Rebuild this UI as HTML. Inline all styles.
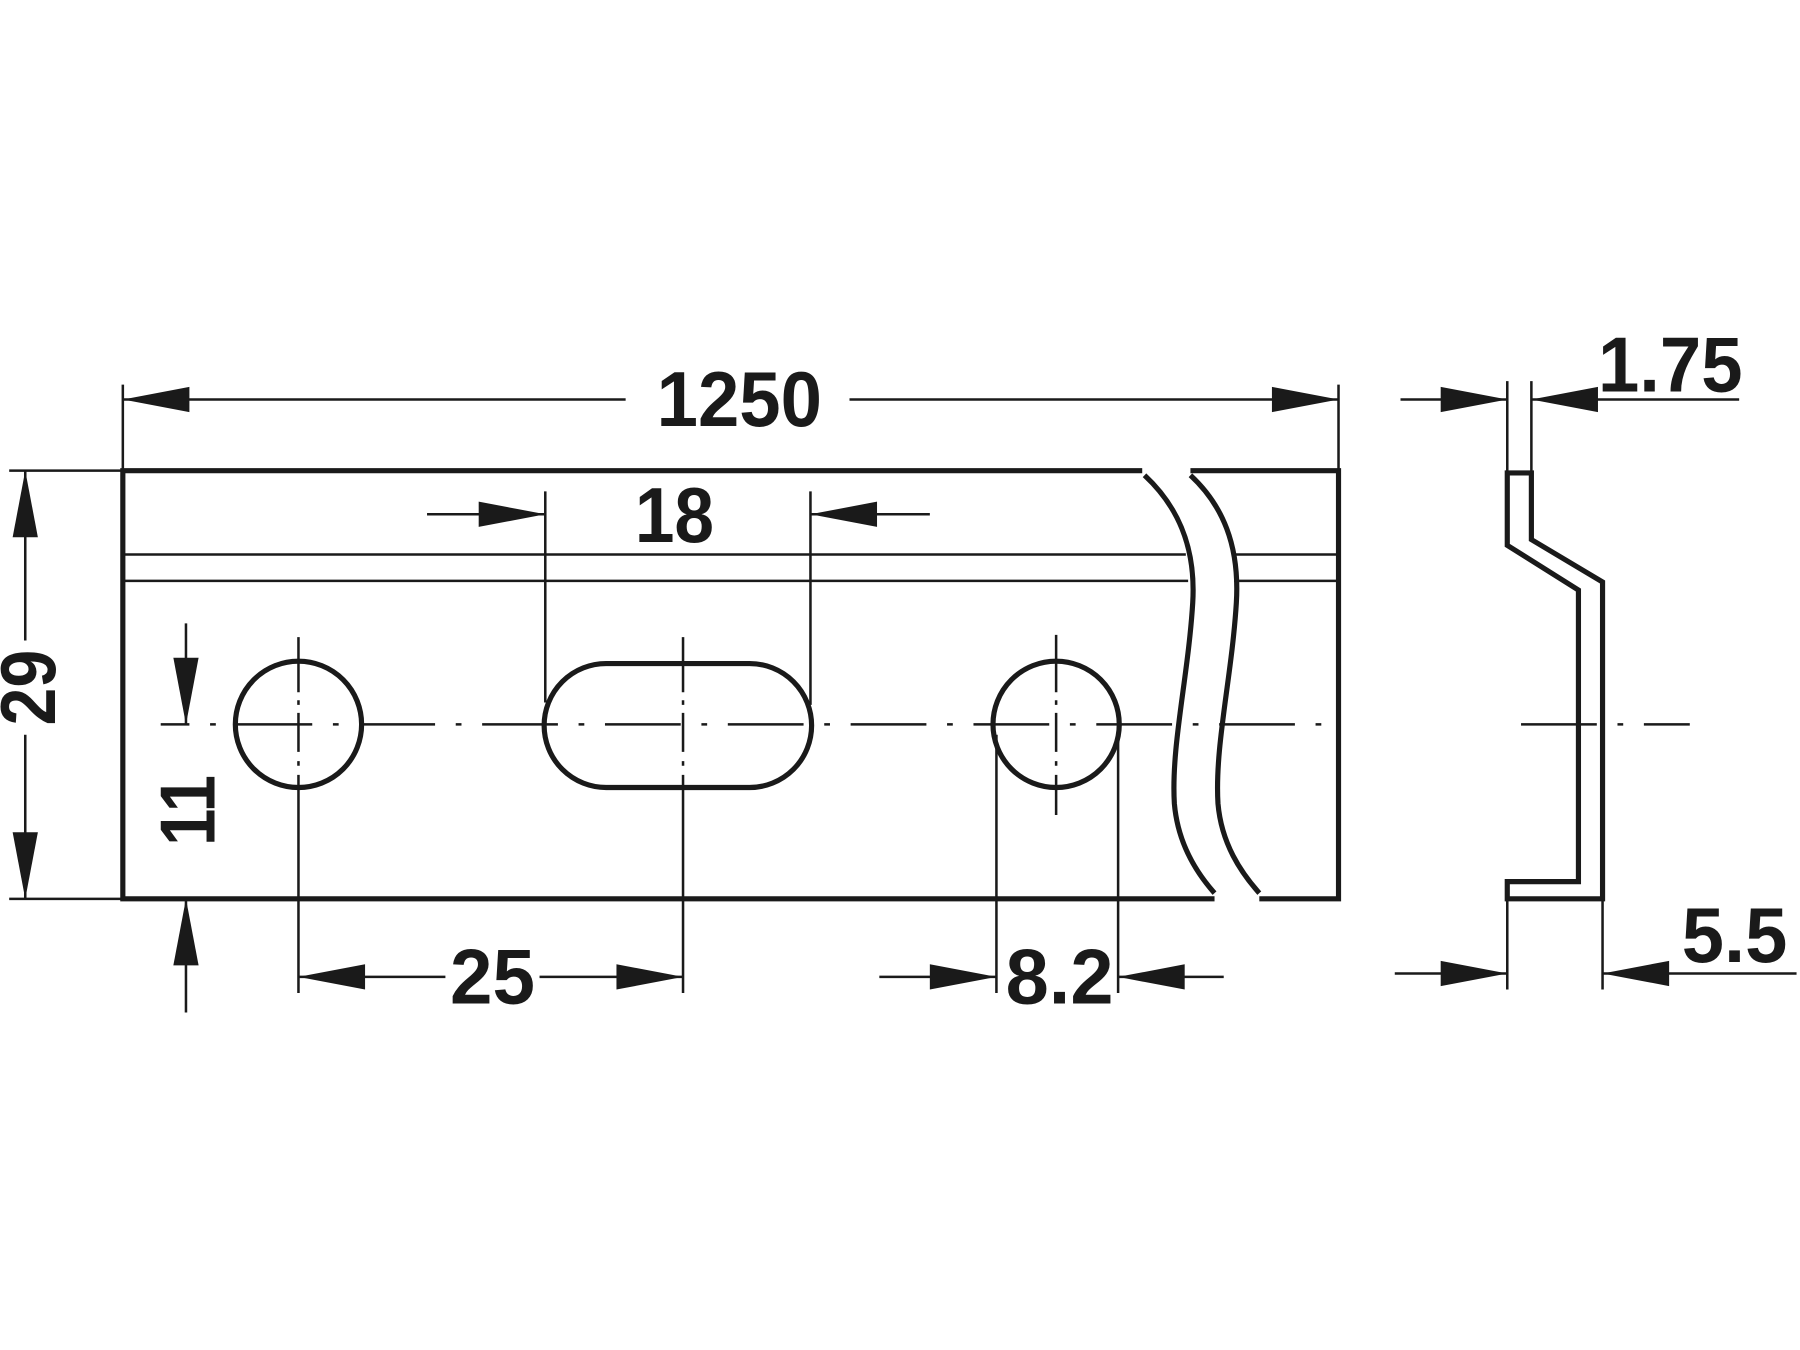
<!DOCTYPE html>
<html><head><meta charset="utf-8"><style>
html,body{margin:0;padding:0;background:#fff;}
svg{display:block;}
text{font-family:"Liberation Sans",sans-serif;font-weight:bold;fill:#1a1a1a;}
</style></head><body>
<svg xmlns="http://www.w3.org/2000/svg" width="1800" height="1350" viewBox="0 0 1568 1176">
<rect width="1568" height="1176" fill="#fff"/>
<g stroke="#1a1a1a" fill="none" stroke-linecap="butt">
  <g stroke-width="4.5">
    <polyline points="995,410 107,410 107,783 1058,783"/>
    <polyline points="1037,410 1166,410 1166,783 1097,783"/>
    <path d="M997,414 C1025,440 1042,475 1039,525 C1035,590 1020,650 1023,700 C1026,735 1042,760 1058,778"/>
    <path d="M1037,414 C1065,440 1080,475 1077,525 C1073,590 1058,650 1061,700 C1064,735 1081,760 1097,778"/>
    <circle cx="260" cy="631" r="55"/>
    <circle cx="920" cy="631" r="55"/>
    <rect x="474" y="578" width="233" height="108" rx="54" ry="54"/>
    <polygon points="1313,412 1334,412 1334,470 1396,507 1396,783 1313,783 1313,768 1375,768 1375,514 1313,475"/>
  </g>
  <g stroke-width="2.2">
    <line x1="107" y1="483" x2="1033" y2="483"/>
    <line x1="107" y1="506" x2="1035" y2="506"/>
    <line x1="1073" y1="483" x2="1166" y2="483"/>
    <line x1="1075" y1="506" x2="1166" y2="506"/>
    <line x1="140" y1="631" x2="1165" y2="631" stroke-dasharray="66 18 5 18" stroke-dashoffset="-66"/>
    <line x1="1325" y1="631" x2="1472" y2="631" stroke-dasharray="66 18 5 18"/>
    <line x1="260" y1="555" x2="260" y2="865" stroke-dasharray="48 7 4 7 34 8 4 8 300"/>
    <line x1="595" y1="555" x2="595" y2="865" stroke-dasharray="48 7 4 7 34 8 4 8 300"/>
    <line x1="920" y1="553" x2="920" y2="710" stroke-dasharray="50 7 4 7 34 8 4 8 300"/>
    <line x1="107" y1="335" x2="107" y2="410"/>
    <line x1="1166" y1="335" x2="1166" y2="410"/>
    <line x1="8" y1="410" x2="107" y2="410"/>
    <line x1="8" y1="783" x2="107" y2="783"/>
    <line x1="475" y1="428" x2="475" y2="612"/>
    <line x1="706" y1="428" x2="706" y2="614"/>
    <line x1="868" y1="640" x2="868" y2="865"/>
    <line x1="974" y1="640" x2="974" y2="865"/>
    <line x1="1313" y1="332" x2="1313" y2="410"/>
    <line x1="1334" y1="332" x2="1334" y2="410"/>
    <line x1="1313" y1="783" x2="1313" y2="862"/>
    <line x1="1396" y1="783" x2="1396" y2="862"/>
    <line x1="107" y1="348" x2="545" y2="348"/>
    <line x1="740" y1="348" x2="1166" y2="348"/>
    <line x1="22" y1="410" x2="22" y2="558"/>
    <line x1="22" y1="640" x2="22" y2="783"/>
    <line x1="162" y1="543" x2="162" y2="631"/>
    <line x1="162" y1="783" x2="162" y2="882"/>
    <line x1="372" y1="448" x2="475" y2="448"/>
    <line x1="706" y1="448" x2="810" y2="448"/>
    <line x1="260" y1="851" x2="388" y2="851"/>
    <line x1="470" y1="851" x2="595" y2="851"/>
    <line x1="766" y1="851" x2="868" y2="851"/>
    <line x1="974" y1="851" x2="1066" y2="851"/>
    <line x1="1220" y1="348" x2="1313" y2="348"/>
    <line x1="1334" y1="348" x2="1515" y2="348"/>
    <line x1="1215" y1="848" x2="1313" y2="848"/>
    <line x1="1396" y1="848" x2="1565" y2="848"/>
  </g>
</g>
<g fill="#1a1a1a">
  <polygon points="107,348 165,337 165,359"/>
  <polygon points="1166,348 1108,337 1108,359"/>
  <polygon points="22,410 11,468 33,468"/>
  <polygon points="22,783 11,725 33,725"/>
  <polygon points="162,631 151,573 173,573"/>
  <polygon points="162,783 151,841 173,841"/>
  <polygon points="475,448 417,437 417,459"/>
  <polygon points="706,448 764,437 764,459"/>
  <polygon points="260,851 318,840 318,862"/>
  <polygon points="595,851 537,840 537,862"/>
  <polygon points="868,851 810,840 810,862"/>
  <polygon points="974,851 1032,840 1032,862"/>
  <polygon points="1313,348 1255,337 1255,359"/>
  <polygon points="1334,348 1392,337 1392,359"/>
  <polygon points="1313,848 1255,837 1255,859"/>
  <polygon points="1396,848 1454,837 1454,859"/>
</g>
<text x="572" y="371" font-size="68" textLength="144" lengthAdjust="spacingAndGlyphs">1250</text>
<text x="553" y="472" font-size="68" textLength="69" lengthAdjust="spacingAndGlyphs">18</text>
<text x="392" y="874" font-size="68" textLength="74" lengthAdjust="spacingAndGlyphs">25</text>
<text x="876" y="874" font-size="68" textLength="94" lengthAdjust="spacingAndGlyphs">8.2</text>
<text x="1392" y="341" font-size="68" textLength="126" lengthAdjust="spacingAndGlyphs">1.75</text>
<text x="1465" y="838" font-size="68" textLength="92" lengthAdjust="spacingAndGlyphs">5.5</text>
<text transform="translate(48,632) rotate(-90)" font-size="68" textLength="66" lengthAdjust="spacingAndGlyphs">29</text>
<text transform="translate(187,737) rotate(-90)" font-size="68" textLength="62" lengthAdjust="spacingAndGlyphs">11</text>
</svg>
</body></html>
